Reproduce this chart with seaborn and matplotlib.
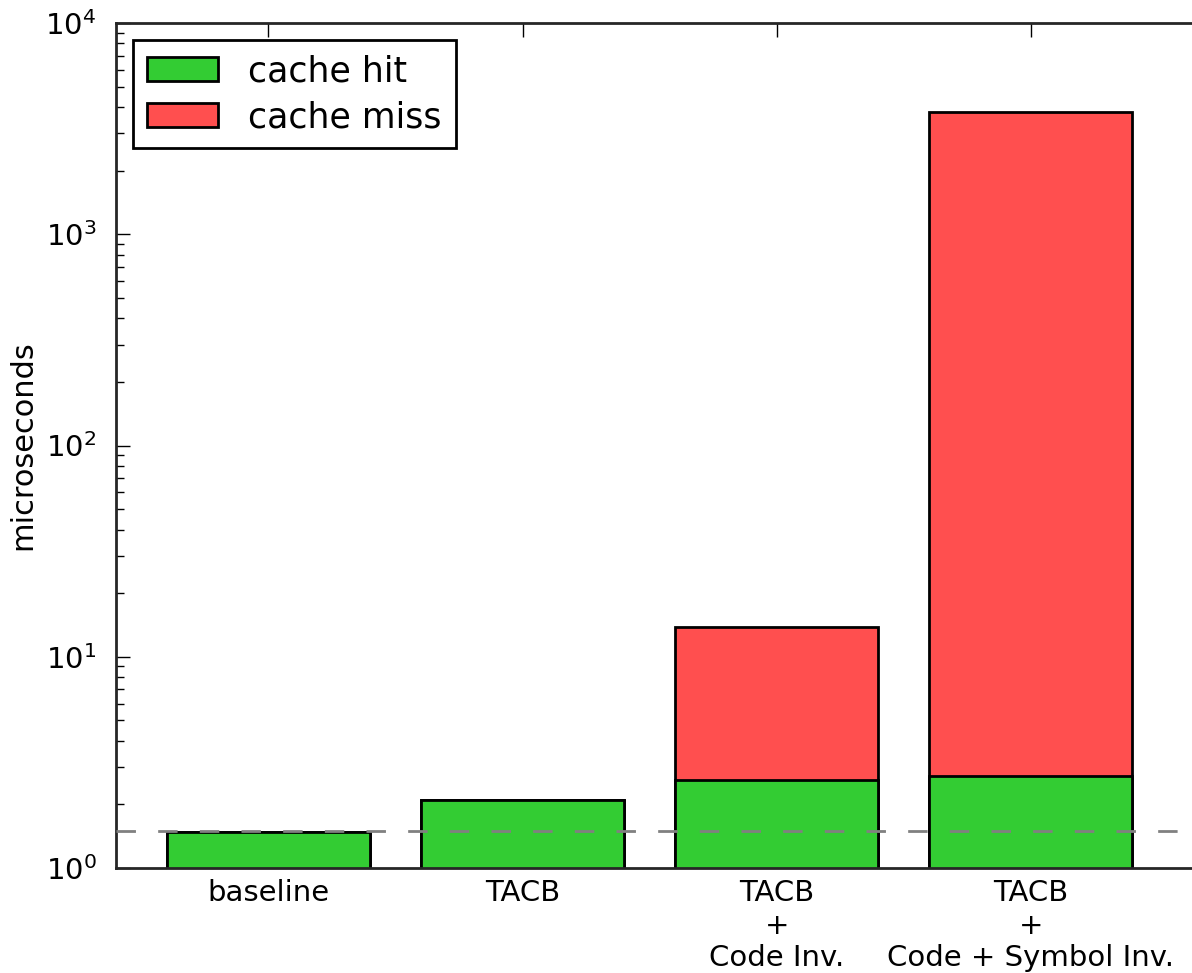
import numpy as np
import pandas as pd
import matplotlib
matplotlib.use('Agg')
import matplotlib.pyplot as plt
import seaborn as sns
from matplotlib.patches import Patch

# Values (microseconds, log scale)
configs = ['baseline', 'TACB', 'TACB\n+\nCode Inv.', 'TACB\n+\nCode + Symbol Inv.']
cache_hit = [1.48, 2.1, 2.62, 2.73]
cache_total = [1.48, 2.1, 13.8, 3800.0]   # hit + miss stacked height
baseline_level = 1.5

green = '#33cc33'
red = '#ff4f4f'

data = pd.DataFrame({'config': configs, 'hit': cache_hit, 'total': cache_total})

sns.set_style('ticks')
plt.rcParams['font.family'] = ['DejaVu Sans']
plt.rcParams['text.color'] = 'black'
plt.rcParams['axes.labelcolor'] = 'black'
plt.rcParams['xtick.color'] = 'black'
plt.rcParams['ytick.color'] = 'black'

fig = plt.figure(figsize=(11.92, 9.73), dpi=100)
ax = fig.add_axes([116 / 1192, 105 / 973, 1118 / 1192, 845 / 973])
ax.set_yscale('log')

# red = full stacked height, green drawn over it from the bottom
sns.barplot(data=data, x='config', y='total', order=configs, color=red,
            edgecolor='black', linewidth=2, saturation=1, width=0.8, ax=ax)
sns.barplot(data=data, x='config', y='hit', order=configs, color=green,
            edgecolor='black', linewidth=2, saturation=1, width=0.8, ax=ax)

ax.axhline(baseline_level, color='gray', linestyle=(0, (7, 8)), linewidth=2, zorder=3)

ax.set_ylim(1, 1e4)
ax.set_xlim(-0.6, 3.8)
ax.set_xlabel('')
ax.set_ylabel('microseconds', fontsize=22, labelpad=6)
ax.tick_params(axis='both', which='both', direction='in', top=True, right=True)
ax.tick_params(axis='both', which='major', length=10, width=1, labelsize=21)
ax.tick_params(axis='x', which='major', pad=8)
ax.tick_params(axis='y', which='major', pad=14)
ax.tick_params(axis='y', which='minor', length=6, width=1)
for s in ax.spines.values():
    s.set_linewidth(2)

handles = [Patch(facecolor=green, edgecolor='black', linewidth=2, label='cache hit'),
           Patch(facecolor=red, edgecolor='black', linewidth=2, label='cache miss')]
leg = ax.legend(handles=handles, loc='upper left', fontsize=25, fancybox=False,
                framealpha=1, edgecolor='black', handlelength=2.05, handleheight=0.69,
                borderaxespad=0.5, borderpad=0.4, labelspacing=0.35, handletextpad=0.86)
leg.get_frame().set_linewidth(2)

fig.savefig('out.png', dpi=100)
